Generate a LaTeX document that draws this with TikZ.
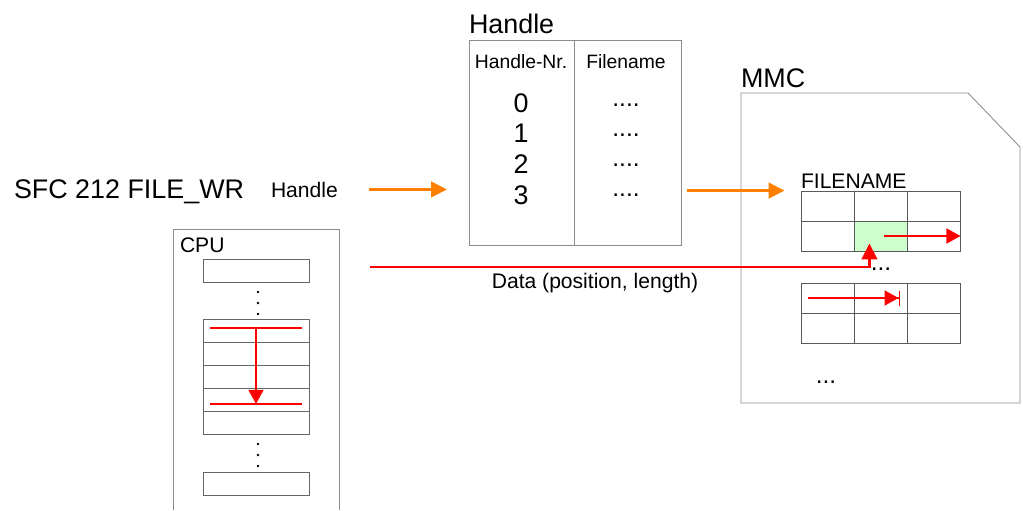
\documentclass[tikz,border=0pt]{standalone}
\usepackage{fontspec}
\setmainfont{Liberation Sans}
\usepackage{tikz}
\usetikzlibrary{arrows.meta, calc, positioning}
\definecolor{fileorange}{HTML}{FF8000}
\definecolor{filered}{HTML}{FF0000}
\definecolor{cellgreen}{HTML}{CCFFCC}

\begin{document}
\begin{tikzpicture}[x=0.2mm, y=-0.2mm, >={Triangle[length=3.2mm, width=3.1mm]}]
	\tikzstyle{txt} = [inner sep=0pt, outer sep=0pt]
	\tikzstyle{big} = [txt, font=\fontsize{15.3}{18}\selectfont]
	\tikzstyle{mid} = [txt, font=\fontsize{12}{14}\selectfont]
	\tikzstyle{small} = [txt, font=\fontsize{11}{13}\selectfont]
	\tikzstyle{dots} = [txt, font=\fontsize{14}{16}\selectfont]
	\tikzstyle{frame} = [draw=black!45, line width=0.5pt]
	\tikzstyle{cell} = [draw=black!65, line width=0.5pt, minimum width=10.6mm, minimum height=6mm, inner sep=0pt]
	\tikzstyle{slot} = [draw=black!60, line width=0.5pt, minimum width=21.2mm, minimum height=4.6mm, inner sep=0pt]
	\tikzstyle{handleflow} = [->, fileorange, line width=1.7pt]
	\tikzstyle{dataflow} = [->, filered, line width=1.7pt]
	\tikzstyle{move} = [-{Triangle[length=2.8mm, width=3mm]}, filered, line width=1.1pt]
	\tikzstyle{movebar} = [-{Triangle[length=2.8mm, width=3mm]Bar[width=3mm]}, filered, line width=1.1pt]

	\useasboundingbox (0,0) rectangle (1023,510);

	\node[big, anchor=base west] (sfc) at (14,198) {SFC 212 FILE\_WR};
	\node[mid, anchor=base west] (hin) at (271,197) {Handle};

	\node[frame, anchor=north west, minimum width=42.4mm, minimum height=41mm, inner sep=0pt] (htab) at (469,40) {};
	\draw[frame] ([xshift=21mm]htab.north west) -- ([xshift=21mm]htab.south west);
	\node[big, anchor=base west] (htitle) at (469,33) {Handle};
	\node[small, anchor=base] (hnr) at (521,68) {Handle-Nr.};
	\node[small, anchor=base] (fname) at (626,68) {Filename};
	\foreach \i in {0,...,3} {
		\node[big, anchor=base] (nr\i) at (521,112+30.7*\i) {\i};
		\node[dots, anchor=base] (fn\i) at (626,106+30*\i) {....};
	}

	\draw[frame] (741,93) -- (968,93) -- (1020,147) -- (1020,403) -- (741,403) -- cycle;
	\node[big, anchor=base west] (mmc) at (741,87) {MMC};
	\node[mid, anchor=base west] (fnlabel) at (801,188) {FILENAME};
	\fill[cellgreen] (854,221) rectangle (907,251);
	\foreach \r in {0,1}
		\foreach \c in {0,1,2} {
			\node[cell] (ga\r\c) at (827.5+53*\c, 206+30*\r) {};
			\node[cell] (gb\r\c) at (827.5+53*\c, 298+30*\r) {};
		}
	\draw[move] ([xshift=0.7mm]ga11.center) -- (ga12.east);
	\node[dots, anchor=base] (dotsa) at (881,270) {...};
	\draw[movebar] ([xshift=1.4mm]gb00.west) -- ([xshift=-1.4mm]gb01.east);
	\node[dots, anchor=base] (dotsb) at (826,383) {...};

	\draw[frame] (173,510) |- (339,229) -- (339,510);
	\node[mid, anchor=base west] (cpu) at (180,252) {CPU};
	\node[slot] (slottop) at (256,271) {};
	\foreach \y in {292,303,314} \fill (258,\y) circle (1.4);
	\foreach \i in {0,...,4} \node[slot] (st\i) at (256,331.4+22.8*\i) {};
	\foreach \y in {444,455,466} \fill (258,\y) circle (1.4);
	\node[slot] (slotbot) at (256,483.5) {};
	\coordinate (rtop) at ($(st0.center)+(0,-3.5)$);
	\coordinate (rbot) at ($(st3.center)+(0,4)$);
	\draw[filered, line width=1.1pt] ($(rtop)+(-46,0)$) -- ($(rtop)+(46,0)$);
	\draw[filered, line width=1.1pt] ($(rbot)+(-46,0)$) -- ($(rbot)+(46,0)$);
	\draw[move] (rtop) -- (rbot);

	\draw[handleflow, shorten <=6.2mm, shorten >=4.4mm] (hin.east) -- (hin.east -| htab.west);
	\draw[handleflow, shorten <=1mm, shorten >=3.2mm] (htab.east |- ga00.north) -- (ga00.north west);
	\coordinate (dstart) at (370,267);
	\coordinate (dend) at ($(ga10.south east)+(15,-8)$);
	\draw[dataflow] (dstart) -| (dend);
	\node[mid, anchor=base] (dlabel) at (595,288) {Data (position, length)};
\end{tikzpicture}
\end{document}
